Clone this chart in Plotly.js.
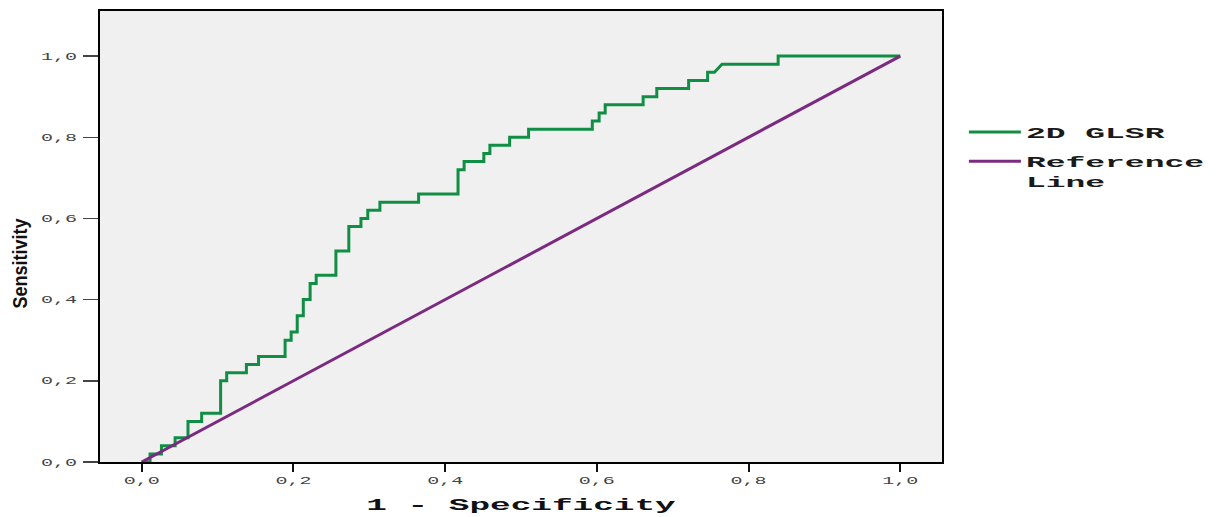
<!DOCTYPE html>
<html>
<head>
<meta charset="utf-8">
<script src="https://cdn.plot.ly/plotly-3.0.1.min.js"></script>
<style>
  html, body { margin: 0; padding: 0; background: #fff; }
  #chart { width: 1220px; height: 517px; }
</style>
</head>
<body>
<div id="chart"></div>
<script>
// ROC curve vertices (1 - specificity, sensitivity)
const rocFpr = [0, 0.011, 0.011, 0.026, 0.026, 0.044, 0.044, 0.061, 0.061, 0.079, 0.079, 0.104, 0.104, 0.112, 0.112, 0.138, 0.138, 0.154, 0.154, 0.189, 0.189, 0.197, 0.197, 0.205, 0.205, 0.213, 0.213, 0.222, 0.222, 0.230, 0.230, 0.256, 0.256, 0.273, 0.273, 0.289, 0.289, 0.298, 0.298, 0.314, 0.314, 0.365, 0.365, 0.417, 0.417, 0.425, 0.425, 0.451, 0.451, 0.459, 0.459, 0.485, 0.485, 0.510, 0.510, 0.594, 0.594, 0.603, 0.603, 0.611, 0.611, 0.661, 0.661, 0.679, 0.679, 0.721, 0.721, 0.746, 0.746, 0.755, 0.765, 0.839, 0.839, 1.0];
const rocTpr = [0, 0, 0.02, 0.02, 0.04, 0.04, 0.06, 0.06, 0.10, 0.10, 0.12, 0.12, 0.20, 0.20, 0.22, 0.22, 0.24, 0.24, 0.26, 0.26, 0.30, 0.30, 0.32, 0.32, 0.36, 0.36, 0.40, 0.40, 0.44, 0.44, 0.46, 0.46, 0.52, 0.52, 0.58, 0.58, 0.60, 0.60, 0.62, 0.62, 0.64, 0.64, 0.66, 0.66, 0.72, 0.72, 0.74, 0.74, 0.76, 0.76, 0.78, 0.78, 0.80, 0.80, 0.82, 0.82, 0.84, 0.84, 0.86, 0.86, 0.88, 0.88, 0.90, 0.90, 0.92, 0.92, 0.94, 0.94, 0.96, 0.96, 0.98, 0.98, 1.0, 1.0];
const refX = [0, 1];
const refY = [0, 1];
const seriesNames = ['2D GLSR', 'Reference<br>Line'];
const tickVals = [0, 0.2, 0.4, 0.6, 0.8, 1.0];
const xTitle = '1 - Specificity';
const yTitle = 'Sensitivity';

const mono = 'Liberation Mono, DejaVu Sans Mono, Courier New, monospace';

const traces = [
  { x: rocFpr, y: rocTpr, type: 'scatter', mode: 'lines', name: seriesNames[0],
    line: { color: '#108e44', width: 3, shape: 'linear' }, legend: 'legend', hoverinfo: 'x+y' },
  { x: refX, y: refY, type: 'scatter', mode: 'lines', name: seriesNames[1],
    line: { color: '#7b2a80', width: 3 }, legend: 'legend2', hoverinfo: 'x+y' }
];

function legendCfg(x, y) {
  return {
    x: x, y: y, xanchor: 'left', yanchor: 'middle', bgcolor: 'rgba(0,0,0,0)', borderwidth: 0,
    font: { family: mono, size: 15, color: '#1a1a1a', weight: 700 },
    itemwidth: 52, valign: 'top'
  };
}

const layout = {
  width: 1220, height: 517,
  margin: { l: 100, r: 278, t: 11, b: 55 },
  font: { family: mono, size: 15, color: '#1a1a1a' },
  paper_bgcolor: '#ffffff',
  plot_bgcolor: '#f0f0f0',
  separators: ',.',
  showlegend: true,
  legend: legendCfg(1.026, 0.731),
  legend2: legendCfg(1.026, 0.645),
  xaxis: {
    range: [-0.055, 1.055], tickvals: tickVals, tickformat: '.1f',
    showgrid: false, zeroline: false,
    showline: true, linecolor: '#000', linewidth: 2, mirror: true,
    ticks: 'outside', ticklen: 8, tickwidth: 2, tickcolor: '#111',
    tickfont: { family: mono, size: 10, color: '#444' },
    title: { text: xTitle, standoff: 13, font: { family: mono, size: 16, color: '#111', weight: 700 } }
  },
  yaxis: {
    range: [0, 1.111], tickvals: tickVals, tickformat: '.1f',
    showgrid: false, zeroline: false,
    showline: true, linecolor: '#000', linewidth: 2, mirror: true,
    ticks: 'outside', ticklen: 15, tickwidth: 1.5, tickcolor: '#444', ticklabelstandoff: 4,
    tickfont: { family: mono, size: 10, color: '#444' }
  },
  annotations: [{
    text: yTitle, xref: 'paper', yref: 'paper', x: -0.095, y: 0.44,
    xanchor: 'center', yanchor: 'middle', textangle: -90, showarrow: false,
    font: { family: 'Liberation Sans, Arial, sans-serif', size: 20, color: '#111', weight: 700 }
  }]
};

// horizontally stretch text about its own anchor (the reference uses wide, stretched lettering)
function stretchText(root, selector, s) {
  root.querySelectorAll(selector).forEach(function (t) {
    const prev = t.getAttribute('transform') || '';
    if (prev.indexOf('scale(') !== -1) return;
    let x = parseFloat(t.getAttribute('x'));
    if (isNaN(x)) {
      const ts = t.querySelector('tspan[x]');
      x = ts ? parseFloat(ts.getAttribute('x')) : 0;
    }
    t.setAttribute('transform', prev + ' translate(' + x + ',0) scale(' + s + ',1) translate(' + (-x) + ',0)');
  });
}

function applyStyling(gd) {
  stretchText(gd, 'g.xtick text, g.ytick text', 2.0);
  stretchText(gd, 'text.xtitle', 2.15);
  stretchText(gd, '.infolayer g[class*="legend"] text', 2.2);
  stretchText(gd, 'g.annotation text', 0.9);
  gd.querySelectorAll('.infolayer [clip-path]').forEach(function (e) { e.removeAttribute('clip-path'); });
}

const gd = document.getElementById('chart');
Plotly.newPlot(gd, traces, layout, { displayModeBar: false, staticPlot: true }).then(function () {
  applyStyling(gd);
  gd.on('plotly_afterplot', function () { applyStyling(gd); });
  [30, 120, 400].forEach(function (ms) { setTimeout(function () { applyStyling(gd); }, ms); });
});
</script>
</body>
</html>
